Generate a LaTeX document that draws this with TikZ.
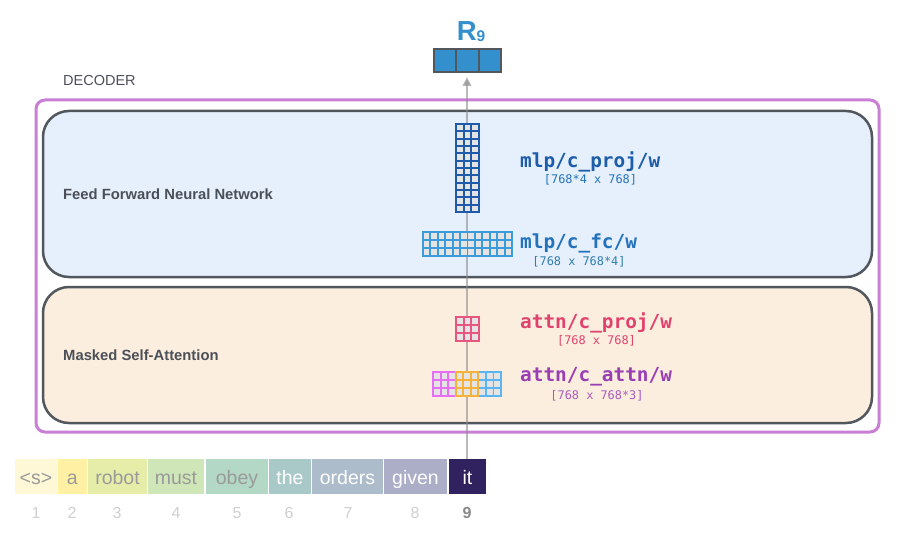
\documentclass[tikz,border=0pt]{standalone}
\usepackage{fontspec}
\setmainfont{Liberation Sans}
\newfontfamily\monofont{DejaVu Sans Mono}
\usetikzlibrary{arrows.meta}
\definecolor{purp}{HTML}{C97FD6}
\definecolor{boxline}{HTML}{52575E}
\definecolor{ffnnfill}{HTML}{E6F0FC}
\definecolor{msafill}{HTML}{FCEEDE}
\definecolor{labgray}{HTML}{4B5058}
\definecolor{rblue}{HTML}{3390CC}
\definecolor{cellgray}{HTML}{E4E4E4}
\definecolor{projblue}{HTML}{1E5BAA}
\definecolor{fcblue}{HTML}{3C9BDA}
\definecolor{attnpink}{HTML}{E8557F}
\definecolor{qmag}{HTML}{E56EF2}
\definecolor{korange}{HTML}{F6B13A}
\definecolor{vblue}{HTML}{59B6F2}
\definecolor{tprojtxt}{HTML}{1C5CA8}
\definecolor{tfctxt}{HTML}{2372BC}
\definecolor{tattnp}{HTML}{E0426E}
\definecolor{tattna}{HTML}{9A3EB4}
\definecolor{tk1}{HTML}{FFF8D6}
\definecolor{tk2}{HTML}{FFF0A3}
\definecolor{tk3}{HTML}{E5EDA9}
\definecolor{tk4}{HTML}{CFE6B8}
\definecolor{tk5}{HTML}{B3D8C5}
\definecolor{tk6}{HTML}{A9C9C9}
\definecolor{tk7}{HTML}{ADBCCA}
\definecolor{tk8}{HTML}{ACAEC8}
\definecolor{tk9}{HTML}{30215F}
\definecolor{tkgray}{HTML}{9A9A9A}
\definecolor{numgray}{HTML}{D0D0D0}
\definecolor{numdark}{HTML}{888888}
% weight grid: x0, y0, cols, rows, cell w, cell h, colour
\newcommand\wgrid[7]{%
  \fill[cellgray] (#1,#2) rectangle ++(#3*#5,#4*#6);
  \foreach \k in {0,...,#3}
    \draw[draw=#7,line width=1.9pt] (#1+\k*#5,#2) -- ++(0,#4*#6);
  \foreach \k in {0,...,#4}
    \draw[draw=#7,line width=1.9pt] (#1,#2+\k*#6) -- ++(#3*#5,0);
  \draw[draw=#7,line width=1.9pt] (#1,#2) rectangle ++(#3*#5,#4*#6);
}
\begin{document}
\begin{tikzpicture}[x=1pt,y=-1pt,
  outerbox/.style={draw=purp,line width=3pt,rounded corners=9pt},
  innerbox/.style={draw=boxline,line width=2.5pt,rounded corners=26pt},
  seclabel/.style={anchor=west,text=labgray,font=\fontsize{14.8}{15}\selectfont\bfseries,inner sep=0pt},
  declabel/.style={anchor=west,text=labgray,font=\fontsize{14.5}{15}\selectfont,inner sep=0pt},
  wname/.style={anchor=west,inner sep=0pt,font=\monofont\fontsize{19.4}{20}\selectfont\bfseries},
  wdim/.style={anchor=center,inner sep=0pt,font=\monofont\fontsize{11.9}{12}\selectfont},
  tok/.style={inner sep=0pt,minimum height=35pt,text height=15.5pt,text depth=0pt,text=tkgray,font=\fontsize{19.5}{20}\selectfont},
  num/.style={inner sep=0pt,text height=12pt,text depth=0pt,text=numgray,font=\fontsize{16}{16}\selectfont},
  veccell/.style={draw=boxline,fill=rblue,line width=2pt,minimum width=22.3pt,minimum height=23pt,inner sep=0pt},
  arr/.style={draw=black!45,opacity=0.6,line width=2.3pt,-{Triangle[width=8.5pt,length=9pt]}}
]
\useasboundingbox (0,0) rectangle (903,535);
\fill[white] (0,0) rectangle (903,535);

% decoder frame and blocks
\draw[outerbox] (36,100) rectangle (879,432);
\draw[innerbox,fill=ffnnfill] (43,111) rectangle (872,277);
\draw[innerbox,fill=msafill] (43,287) rectangle (872,423);

\node[declabel] (dec) at (63,81) {DECODER};
\node[seclabel] (ffnn) at (63,194) {Feed Forward Neural Network};
\node[seclabel] (msa) at (63,355) {Masked Self-Attention};

% tokens
\node[tok,fill=tk1,minimum width=42pt] (t1) at (36,476.5) {<s>};
\node[tok,fill=tk2,minimum width=29.5pt] (t2) at (72.25,476.5) {a};
\node[tok,fill=tk3,minimum width=59pt] (t3) at (117.5,476.5) {robot};
\node[tok,fill=tk4,minimum width=56pt] (t4) at (176,476.5) {must};
\node[tok,fill=tk5,minimum width=62pt] (t5) at (237,476.5) {obey};
\node[tok,fill=tk6,minimum width=42pt,text=white] (t6) at (290,476.5) {the};
\node[tok,fill=tk7,minimum width=71pt,text=white] (t7) at (347.5,476.5) {orders};
\node[tok,fill=tk8,minimum width=63pt,text=white] (t8) at (415.5,476.5) {given};
\node[tok,fill=tk9,minimum width=37pt,text=white] (t9) at (467.5,476.5) {it};

\node[num] (n1) at (36,512) {1};
\node[num] (n2) at (72,512) {2};
\node[num] (n3) at (117,512) {3};
\node[num] (n4) at (176,512) {4};
\node[num] (n5) at (237,512) {5};
\node[num] (n6) at (289,512) {6};
\node[num] (n7) at (348,512) {7};
\node[num] (n8) at (415,512) {8};
\node[num,text=numdark,font=\fontsize{16}{16}\selectfont\bfseries] (n9) at (467,512) {9};

% output vector
\node[veccell] (v1) at (445.2,60.5) {};
\node[veccell] (v2) at (467.5,60.5) {};
\node[veccell] (v3) at (489.8,60.5) {};
\node[inner sep=0pt,text=rblue,anchor=base] (rlab) at (471,40.7)
  {\fontsize{27.5}{28}\selectfont\bfseries R\raisebox{-1.3pt}{\fontsize{15.5}{16}\selectfont 9}};

% arrow
\coordinate (atop) at (467,77);
\draw[arr] (t9.north -| atop) -- (atop);

% weight grids
\wgrid{456}{124}{3}{12}{7.67}{7.33}{projblue}
\wgrid{423}{232}{12}{3}{7.42}{8}{fcblue}
\wgrid{456}{317}{3}{3}{7.67}{8}{attnpink}
\wgrid{433}{372}{3}{3}{7.56}{8}{qmag}
\wgrid{478.33}{372}{3}{3}{7.56}{8}{vblue}
\wgrid{455.67}{372}{3}{3}{7.56}{8}{korange}

% weight labels
\node[wname,text=tprojtxt] (lproj) at (520,162) {mlp/c\_proj/w};
\node[wdim,text=tfctxt] (dproj) at (590.5,180) {[768*4 x 768]};
\node[wname,text=tfctxt] (lfc) at (520,243) {mlp/c\_fc/w};
\node[wdim,text=fcblue!80!black] (dfc) at (579,262) {[768 x 768*4]};
\node[wname,text=tattnp] (lap) at (520,323) {attn/c\_proj/w};
\node[wdim,text=tattnp] (dap) at (596.5,341) {[768 x 768]};
\node[wname,text=tattna] (laa) at (520,377) {attn/c\_attn/w};
\node[wdim,text=tattna!85!white] (daa) at (597,396) {[768 x 768*3]};
\end{tikzpicture}
\end{document}
